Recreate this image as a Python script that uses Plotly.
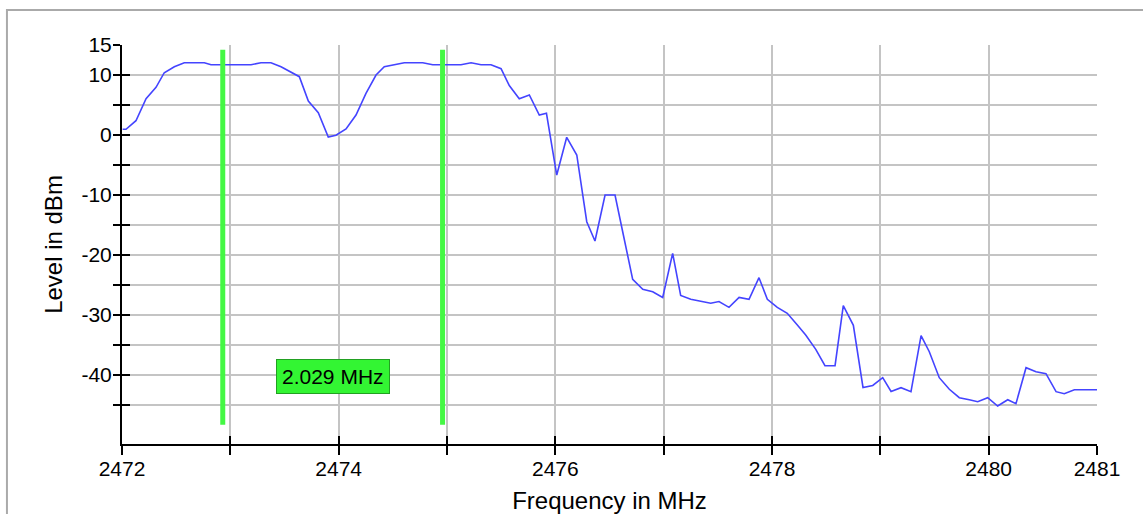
import plotly.graph_objects as go

# Spectrum trace (frequency in MHz, level in dBm)
freq_mhz = [
    2472.006, 2472.037, 2472.129, 2472.222, 2472.314, 2472.390, 2472.483, 2472.575, 2472.667, 2472.760,
    2472.822, 2472.914, 2473.006, 2473.098, 2473.191, 2473.283, 2473.375, 2473.468, 2473.560, 2473.637,
    2473.720, 2473.812, 2473.904, 2473.975, 2474.068, 2474.160, 2474.252, 2474.345, 2474.421, 2474.514,
    2474.606, 2474.698, 2474.776, 2474.868, 2474.960, 2475.053, 2475.129, 2475.222, 2475.314, 2475.406,
    2475.499, 2475.575, 2475.667, 2475.760, 2475.852, 2475.918, 2476.013, 2476.105, 2476.198, 2476.290,
    2476.366, 2476.459, 2476.551, 2476.628, 2476.714, 2476.807, 2476.899, 2476.991, 2477.083, 2477.157,
    2477.250, 2477.342, 2477.434, 2477.511, 2477.603, 2477.696, 2477.788, 2477.880, 2477.957, 2478.049,
    2478.141, 2478.234, 2478.311, 2478.404, 2478.489, 2478.582, 2478.658, 2478.751, 2478.840, 2478.930,
    2479.022, 2479.099, 2479.191, 2479.283, 2479.376, 2479.452, 2479.544, 2479.637, 2479.729, 2479.821,
    2479.899, 2479.991, 2480.083, 2480.176, 2480.252, 2480.345, 2480.437, 2480.529, 2480.622, 2480.698,
    2480.791, 2480.883, 2481.000,
]
level_dbm = [
    0.95, 0.95, 2.38, 6.05, 7.95, 10.38, 11.38, 12.05, 12.05, 12.05,
    11.72, 11.72, 11.72, 11.72, 11.72, 12.05, 12.05, 11.38, 10.50, 9.72,
    5.67, 3.72, -0.33, -0.05, 1.00, 3.33, 6.95, 10.00, 11.38, 11.72,
    12.05, 12.05, 12.05, 11.72, 11.72, 11.72, 11.72, 12.05, 11.72, 11.72,
    11.05, 8.25, 6.05, 6.67, 3.33, 3.62, -6.67, -0.38, -3.33, -14.45,
    -17.67, -10.00, -10.00, -16.67, -24.05, -25.72, -26.12, -27.08, -19.72, -26.75,
    -27.38, -27.72, -28.05, -27.75, -28.72, -27.08, -27.38, -23.78, -27.38, -28.72,
    -29.72, -31.67, -33.33, -35.72, -38.45, -38.45, -28.45, -31.72, -42.08, -41.75,
    -40.45, -42.75, -42.12, -42.78, -33.45, -36.12, -40.45, -42.38, -43.78, -44.12,
    -44.45, -43.78, -45.17, -44.12, -44.78, -38.78, -39.45, -39.78, -42.78, -43.12,
    -42.45, -42.45, -42.45,
]

# Bandwidth markers
marker_freqs = [2472.930, 2474.959]
marker_level_range = [-48.3, 14.2]
bandwidth_label = "2.029 MHz"
label_level = -40.2

# Axes
x_range = [2472, 2481]
y_range = [-51.5, 15]
x_tickvals = [2472, 2473, 2474, 2475, 2476, 2477, 2478, 2479, 2480, 2481]
x_ticktext = ["2472", "", "2474", "", "2476", "", "2478", "", "2480", "2481"]
y_tickvals = [15, 10, 5, 0, -5, -10, -15, -20, -25, -30, -35, -40, -45]
y_ticktext = ["15", "10", "", "0", "", "-10", "", "-20", "", "-30", "", "-40", ""]

FONT = "Liberation Sans, Arial, sans-serif"
GRID = "#c4c4c4"

fig = go.Figure()

fig.add_trace(go.Scatter(
    x=freq_mhz, y=level_dbm, mode="lines",
    line=dict(color="#4444ff", width=1.6),
    showlegend=False, hoverinfo="skip",
))

for f in marker_freqs:
    fig.add_shape(type="line", xref="x", yref="y",
                  x0=f, x1=f, y0=marker_level_range[0], y1=marker_level_range[1],
                  line=dict(color="#44f844", width=5), layer="above")

fig.add_annotation(
    x=sum(marker_freqs) / 2, y=label_level, xref="x", yref="y",
    text=bandwidth_label, showarrow=False,
    font=dict(family=FONT, size=21, color="black"),
    bgcolor="#33f533", bordercolor="#22a022", borderwidth=1, borderpad=5,
)

# Outer light-gray frame
fig.add_shape(type="rect", xref="paper", yref="paper",
              x0=-0.118, x1=1.06, y0=-0.2, y1=1.0877,
              line=dict(color="#aaaaaa", width=2), fillcolor="rgba(0,0,0,0)", layer="below")

fig.update_layout(
    width=1143, height=514,
    margin=dict(l=122, r=46, t=45, b=70, autoexpand=False),
    paper_bgcolor="white", plot_bgcolor="white",
    font=dict(family=FONT, size=21, color="black"),
    xaxis=dict(
        range=x_range, tickvals=x_tickvals, ticktext=x_ticktext,
        showgrid=True, gridcolor=GRID, gridwidth=2,
        showline=True, linecolor="black", linewidth=2,
        ticks="outside", ticklen=9, tickwidth=2, tickcolor="black",
        tickfont=dict(size=21), zeroline=False, automargin=False,
        ticklabelstandoff=-4,
        title=dict(text="Frequency in MHz", font=dict(size=24), standoff=14),
    ),
    yaxis=dict(
        range=y_range, tickvals=y_tickvals, ticktext=y_ticktext,
        showgrid=True, gridcolor=GRID, gridwidth=2,
        showline=True, linecolor="black", linewidth=2,
        ticks="outside", ticklen=7, tickwidth=2, tickcolor="black",
        tickfont=dict(size=21), zeroline=False, ticklabelstandoff=-3, automargin=False,
        title=dict(text="Level in dBm", font=dict(size=24), standoff=12),
    ),
    xaxis2=dict(
        range=x_range, tickvals=x_tickvals, overlaying="x", side="bottom",
        showgrid=False, showline=False, showticklabels=False, zeroline=False,
        ticks="inside", ticklen=8, tickwidth=2, tickcolor="black", anchor="y",
        automargin=False,
    ),
    yaxis2=dict(
        range=y_range, tickvals=y_tickvals, overlaying="y", side="left",
        showgrid=False, showline=False, showticklabels=False, zeroline=False,
        ticks="inside", ticklen=8, tickwidth=2, tickcolor="black", anchor="x",
        automargin=False,
    ),
)

# invisible trace to activate the overlay axes (crossing ticks)
fig.add_trace(go.Scatter(x=[x_range[0]], y=[y_range[0]], xaxis="x2", yaxis="y2",
                         mode="markers", marker=dict(opacity=0), showlegend=False,
                         hoverinfo="skip"))

fig.write_html("out.html")
